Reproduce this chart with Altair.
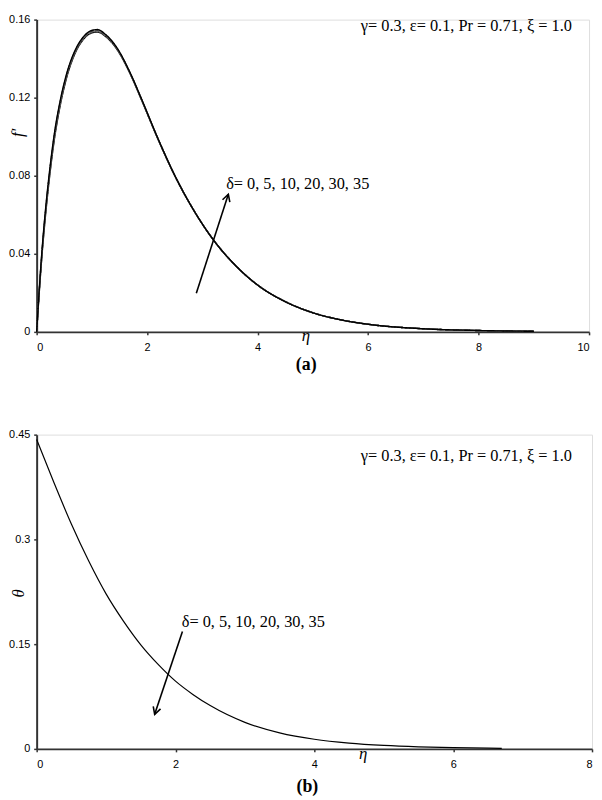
import altair as alt
import pandas as pd

# ---------------- data ----------------
delta_values = ["0", "5", "10", "20", "30", "35"]

eta_a = [0, 0.05, 0.1, 0.17, 0.23, 0.32, 0.43, 0.55, 0.7, 0.85, 1.0, 1.1, 1.25, 1.45,
         1.7, 1.89, 2.2, 2.5, 2.85, 3.23, 3.6, 4.0, 4.5, 5.0, 5.5, 6.0, 7.0, 8.0, 9.0]

fp_d0 = [0, 0.0215, 0.0405, 0.0625, 0.0785, 0.0985, 0.1165, 0.1310, 0.1430, 0.1500, 0.1532,
         0.1536, 0.1513, 0.1449, 0.1318, 0.1194, 0.0985, 0.0800,
         0.0620, 0.0460, 0.0340, 0.0240, 0.0155, 0.0098, 0.0062, 0.0039, 0.0016, 0.0007, 0.0003]
fp_d5 = [0, 0.0218, 0.0410, 0.0631, 0.0791, 0.0991, 0.1170, 0.1314, 0.1433, 0.1503, 0.1535,
         0.1539, 0.1515, 0.1451, 0.1319, 0.1195, 0.0986, 0.0800,
         0.0620, 0.0460, 0.0340, 0.0240, 0.0155, 0.0098, 0.0062, 0.0039, 0.0016, 0.0007, 0.0003]
fp_d10 = [0, 0.0221, 0.0415, 0.0637, 0.0797, 0.0997, 0.1175, 0.1318, 0.1436, 0.1505, 0.1537,
          0.1541, 0.1517, 0.1452, 0.1320, 0.1196, 0.0986, 0.0801,
          0.0620, 0.0460, 0.0340, 0.0240, 0.0155, 0.0098, 0.0062, 0.0039, 0.0016, 0.0007, 0.0003]
fp_d20 = [0, 0.0224, 0.0420, 0.0643, 0.0803, 0.1003, 0.1180, 0.1322, 0.1439, 0.1508, 0.1540,
          0.1544, 0.1519, 0.1454, 0.1321, 0.1197, 0.0987, 0.0801,
          0.0620, 0.0460, 0.0340, 0.0240, 0.0155, 0.0098, 0.0062, 0.0039, 0.0016, 0.0007, 0.0003]
fp_d30 = [0, 0.0227, 0.0425, 0.0649, 0.0809, 0.1009, 0.1185, 0.1326, 0.1442, 0.1510, 0.1542,
          0.1546, 0.1521, 0.1455, 0.1322, 0.1198, 0.0988, 0.0802,
          0.0620, 0.0460, 0.0340, 0.0240, 0.0155, 0.0098, 0.0062, 0.0039, 0.0016, 0.0007, 0.0003]
fp_d35 = [0, 0.0230, 0.0430, 0.0655, 0.0815, 0.1015, 0.1190, 0.1330, 0.1445, 0.1513, 0.1545,
          0.1549, 0.1523, 0.1457, 0.1323, 0.1199, 0.0988, 0.0802,
          0.0620, 0.0460, 0.0340, 0.0240, 0.0155, 0.0098, 0.0062, 0.0039, 0.0016, 0.0007, 0.0003]

eta_b = [0, 0.25, 0.5, 0.75, 1.0, 1.25, 1.5, 1.75, 2.0, 2.25, 2.5, 3.0, 3.5, 4.0, 4.5,
         5.0, 5.5, 6.0, 6.7]
theta_all = [0.443, 0.381, 0.322, 0.269, 0.222, 0.183, 0.149, 0.121, 0.097, 0.078, 0.062,
             0.038, 0.023, 0.0138, 0.0083, 0.0050, 0.0030, 0.0018, 0.0008]

x_ticks_a = [0, 2, 4, 6, 8, 10]
y_ticks_a = [0, 0.04, 0.08, 0.12, 0.16]
x_ticks_b = [0, 2, 4, 6, 8]
y_ticks_b = [0, 0.15, 0.3, 0.45]

param_text = "γ= 0.3, ε= 0.1, Pr = 0.71, ξ = 1.0"
delta_text = "δ= 0, 5, 10, 20, 30, 35"

# annotation anchors (data coordinates)
a_param = {"eta": [9.69], "y": [0.1565], "label": [param_text]}
a_delta = {"eta": [3.43], "y": [0.0756], "label": [delta_text]}
a_arrow = {"eta": [2.89], "y": [0.0198], "eta2": [3.47], "y2": [0.0705]}
a_panel = {"eta": [4.88], "y": [-0.0172], "label": ["(a)"]}

b_param = {"eta": [7.71], "y": [0.419], "label": [param_text]}
b_delta = {"eta": [2.09], "y": [0.181], "label": [delta_text]}
b_arrow = {"eta": [2.10], "y": [0.168], "eta2": [1.70], "y2": [0.0495]}
b_panel = {"eta": [3.9], "y": [-0.0552], "label": ["(b)"]}

# ---------------- build ----------------
serif = "Liberation Serif"
sans = "Liberation Sans"

rows = []
for d, arr in zip(delta_values, [fp_d0, fp_d5, fp_d10, fp_d20, fp_d30, fp_d35]):
    for e, v in zip(eta_a, arr):
        rows.append({"eta": e, "y": v, "delta": d})
df_a = pd.DataFrame(rows)
df_b = pd.DataFrame({"eta": eta_b, "y": theta_all})

axis_common = dict(grid=False, domainColor="#333333", domainWidth=2, tickColor="#333333",
                   tickSize=3, tickWidth=1.5, labelFont=sans, labelFontSize=11,
                   labelColor="#000000", titleColor="#000000", titleFont=serif,
                   titleFontStyle="italic", titleFontWeight="normal", titleFontSize=17,
                   labelExpr="'' + datum.value")

chevron = "M -0.55 1 L 0 0 L 0.55 1"


def panel(df, line_layer_fn, xmax, ymax, xt, yt, xtitle_x, xtitle_y, ytitle, ytitle_x, ytitle_y,
          param, delta, arrow, plabel, angle, w, h):
    X = alt.X("eta:Q", scale=alt.Scale(domain=[0, xmax], nice=False, zero=False),
              axis=alt.Axis(values=xt, title="η", titleX=xtitle_x, titleY=xtitle_y,
                            titleBaseline="alphabetic", labelPadding=7, **axis_common))
    Y = alt.Y("y:Q", scale=alt.Scale(domain=[0, ymax], nice=False, zero=False),
              axis=alt.Axis(values=yt, title=ytitle, titleX=ytitle_x, titleY=ytitle_y,
                            titleAngle=-90, titleBaseline="middle", titleAlign="center",
                            labelPadding=4, **axis_common))
    lines = line_layer_fn(alt.Chart(df), X, Y)
    ptxt = alt.Chart(pd.DataFrame(param)).mark_text(
        font=serif, fontSize=16.5, align="right", baseline="middle", color="#000000"
    ).encode(x=X, y=Y, text="label:N")
    dtxt = alt.Chart(pd.DataFrame(delta)).mark_text(
        font=serif, fontSize=16.5, align="left", baseline="middle", color="#000000"
    ).encode(x=X, y=Y, text="label:N")
    arr_df = pd.DataFrame(arrow)
    shaft = alt.Chart(arr_df).mark_rule(color="#000000", strokeWidth=1.6).encode(
        x=X, y=Y, x2="eta2:Q", y2="y2:Q")
    head = alt.Chart(arr_df).mark_point(
        shape=chevron, filled=False, color="#000000", strokeWidth=1.6, size=200, angle=angle,
        opacity=1
    ).encode(x=alt.X("eta2:Q", scale=alt.Scale(domain=[0, xmax], nice=False)),
             y=alt.Y("y2:Q", scale=alt.Scale(domain=[0, ymax], nice=False)))
    ptag = alt.Chart(pd.DataFrame(plabel)).mark_text(
        font=serif, fontSize=18, fontWeight="bold", align="center", baseline="middle",
        color="#000000"
    ).encode(x=X, y=Y, text="label:N")
    return alt.layer(lines, shaft, head, dtxt, ptxt, ptag).properties(width=w, height=h)


def lines_a(base, X, Y):
    return base.mark_line(strokeWidth=1.4, interpolate="monotone").encode(
        x=X, y=Y,
        detail="delta:N",
        color=alt.Color("delta:N",
                        scale=alt.Scale(domain=delta_values,
                                        range=["#000000", "#555555", "#777777", "#444444",
                                               "#666666", "#000000"]),
                        legend=None),
        strokeDash=alt.StrokeDash(
            "delta:N",
            scale=alt.Scale(domain=delta_values,
                            range=[[1, 0], [3, 2], [1, 1], [4, 2], [2, 1], [1, 0]]),
            legend=None),
    )


def lines_b(base, X, Y):
    return base.mark_line(strokeWidth=1.2, interpolate="monotone", color="#000000").encode(
        x=X, y=Y)


chart_a = panel(df_a, lines_a, 10, 0.16, x_ticks_a, y_ticks_a, 272, 9, "f′", -19, 114,
                a_param, a_delta, a_arrow, a_panel, 18, 559, 316)
chart_b = panel(df_b, lines_b, 8, 0.45, x_ticks_b, y_ticks_b, 330, 10, "θ", -18, 160,
                b_param, b_delta, b_arrow, b_panel, 198.5, 562, 318)

chart = alt.vconcat(chart_a, chart_b, spacing=104, bounds="flush").properties(
    padding={"left": 0, "top": 0, "right": 0, "bottom": 0}
).configure_view(stroke="#8c8c8c", strokeWidth=1).configure(background="#ffffff")

chart.save("out.html", embed_options={"renderer": "svg", "actions": False})
